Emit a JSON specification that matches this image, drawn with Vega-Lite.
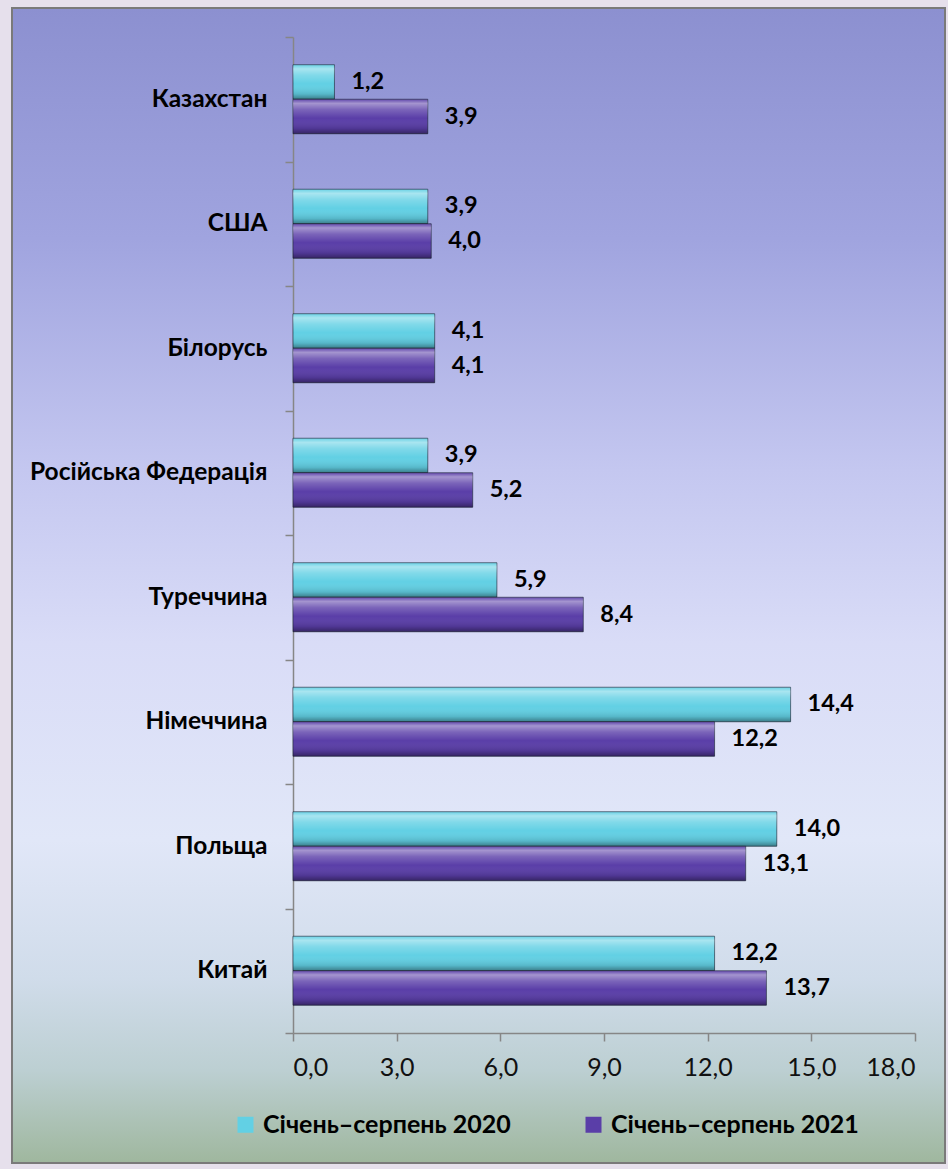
{
  "$schema": "https://vega.github.io/schema/vega-lite/v6.json",
  "width": 933,
  "height": 1155,
  "autosize": {"type": "none"},
  "padding": {"left": 12, "top": 8, "right": 3, "bottom": 6},
  "background": "#e6e0ec",
  "title": {
    "text": "(у % до загального обсягу)",
    "anchor": "end",
    "frame": "group",
    "orient": "top",
    "offset": 7,
    "baseline": "alphabetic",
    "dx": -6,
    "font": "Lato",
    "fontSize": 19,
    "fontWeight": "bold",
    "color": "#000000"
  },
  "config": {
    "locale": {
      "number": {"decimal": ",", "thousands": " ", "grouping": [3], "currency": ["", ""]}
    },
    "view": {
      "fill": {
        "gradient": "linear",
        "x1": 0, "y1": 0, "x2": 0, "y2": 1,
        "stops": [
          {"offset": 0, "color": "#8c90d0"},
          {"offset": 0.2, "color": "#a0a4df"},
          {"offset": 0.4, "color": "#c4c7f0"},
          {"offset": 0.55, "color": "#d9dcf7"},
          {"offset": 0.72, "color": "#e1e7f8"},
          {"offset": 0.84, "color": "#d0dcea"},
          {"offset": 0.92, "color": "#bccfd2"},
          {"offset": 1, "color": "#9fb79e"}
        ]
      },
      "stroke": "#7a7a7a",
      "strokeWidth": 2
    }
  },
  "data": {
    "values": [
      {"country": "Казахстан", "period": "Січень–серпень 2020", "value": 1.2},
      {"country": "Казахстан", "period": "Січень–серпень 2021", "value": 3.9},
      {"country": "США", "period": "Січень–серпень 2020", "value": 3.9},
      {"country": "США", "period": "Січень–серпень 2021", "value": 4.0},
      {"country": "Білорусь", "period": "Січень–серпень 2020", "value": 4.1},
      {"country": "Білорусь", "period": "Січень–серпень 2021", "value": 4.1},
      {"country": "Російська Федерація", "period": "Січень–серпень 2020", "value": 3.9},
      {"country": "Російська Федерація", "period": "Січень–серпень 2021", "value": 5.2},
      {"country": "Туреччина", "period": "Січень–серпень 2020", "value": 5.9},
      {"country": "Туреччина", "period": "Січень–серпень 2021", "value": 8.4},
      {"country": "Німеччина ", "period": "Січень–серпень 2020", "value": 14.4},
      {"country": "Німеччина ", "period": "Січень–серпень 2021", "value": 12.2},
      {"country": "Польща", "period": "Січень–серпень 2020", "value": 14.0},
      {"country": "Польща", "period": "Січень–серпень 2021", "value": 13.1},
      {"country": "Китай", "period": "Січень–серпень 2020", "value": 12.2},
      {"country": "Китай", "period": "Січень–серпень 2021", "value": 13.7}
    ]
  },
  "encoding": {
    "y": {
      "field": "country",
      "type": "nominal",
      "sort": ["Казахстан", "США", "Білорусь", "Російська Федерація", "Туреччина", "Німеччина ", "Польща", "Китай"],
      "scale": {"range": [29, 1025], "paddingInner": 0, "paddingOuter": 0},
      "axis": {
        "orient": "left",
        "offset": -281,
        "title": null,
        "domainColor": "#868686",
        "domainWidth": 1.5,
        "tickColor": "#868686",
        "tickWidth": 1.5,
        "tickSize": 8,
        "tickBand": "extent",
        "labelFont": "Lato",
        "labelFontSize": 24.5,
        "labelFontWeight": "bold",
        "labelColor": "#000000",
        "labelPadding": 18,
        "labelLimit": 400
      }
    },
    "yOffset": {
      "field": "period",
      "type": "nominal",
      "scale": {"paddingInner": 0, "paddingOuter": 0.804}
    },
    "x": {
      "field": "value",
      "type": "quantitative",
      "scale": {"domain": [0, 18], "range": [281, 903], "nice": false},
      "axis": {
        "orient": "bottom",
        "offset": -130,
        "values": [0, 3, 6, 9, 12, 15, 18],
        "format": ".1f",
        "title": null,
        "grid": false,
        "domainColor": "#868686",
        "domainWidth": 1.5,
        "tickColor": "#868686",
        "tickWidth": 1.5,
        "tickSize": 8,
        "labelFont": "Lato",
        "labelFontSize": 25,
        "labelColor": "#111111",
        "labelPadding": 14
      }
    }
  },
  "layer": [
    {
      "mark": {"type": "bar", "stroke": "#1e2a3a", "strokeOpacity": 0.65, "strokeWidth": 1},
      "encoding": {
        "color": {
          "field": "period",
          "type": "nominal",
          "scale": {"domain": ["Січень–серпень 2020", "Січень–серпень 2021"], "range": ["#62d0e4", "#5a3ea8"]},
          "legend": {
            "title": null,
            "orient": "none",
            "direction": "horizontal",
            "legendX": 221,
            "legendY": 1104,
            "symbolType": "square",
            "symbolSize": 256,
            "symbolStrokeWidth": 0,
            "symbolOpacity": 1,
            "labelFont": "Lato",
            "labelFontSize": 25,
            "labelFontWeight": "bold",
            "labelColor": "#000000",
            "labelOffset": 5,
            "columnPadding": 70,
            "padding": 0,
            "labelLimit": 400
          }
        }
      }
    },
    {
      "mark": {
        "type": "bar",
        "fill": {
          "gradient": "linear",
          "x1": 0, "y1": 0, "x2": 0, "y2": 1,
          "stops": [
            {"offset": 0, "color": "rgba(255,255,255,0.05)"},
            {"offset": 0.12, "color": "rgba(255,255,255,0.45)"},
            {"offset": 0.3, "color": "rgba(255,255,255,0.2)"},
            {"offset": 0.55, "color": "rgba(255,255,255,0)"},
            {"offset": 0.85, "color": "rgba(0,0,0,0.12)"},
            {"offset": 1, "color": "rgba(0,0,0,0.4)"}
          ]
        }
      }
    },
    {
      "mark": {"type": "text", "align": "left", "baseline": "middle", "dx": 17, "font": "Lato", "fontSize": 23.5, "fontWeight": "bold", "color": "#000000"},
      "encoding": {
        "text": {"field": "value", "type": "quantitative", "format": ".1f"}
      }
    }
  ]
}
